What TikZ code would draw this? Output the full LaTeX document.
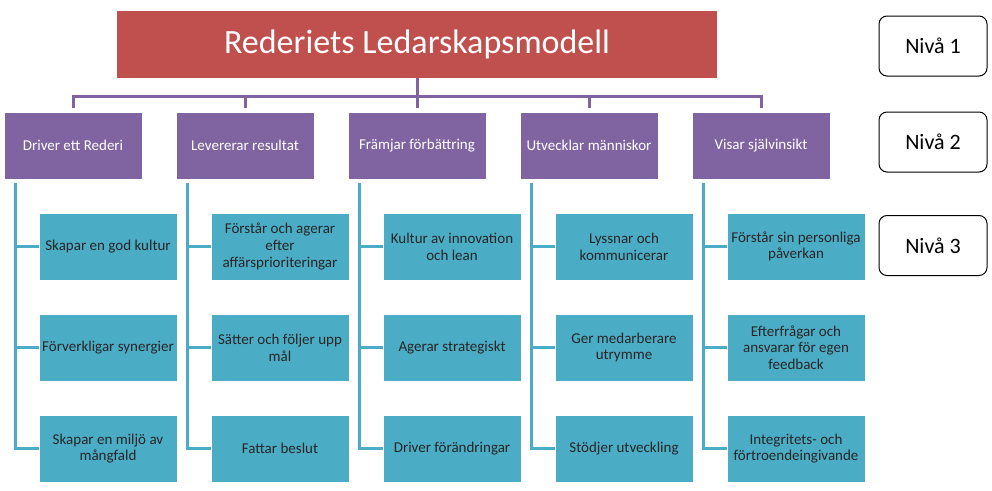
\documentclass[tikz,border=0pt]{standalone}
\usepackage{fontspec}
\setmainfont{Carlito}
\definecolor{modelred}{HTML}{C0504D}
\definecolor{modelpurple}{HTML}{8064A2}
\definecolor{modelteal}{HTML}{4BACC6}
\begin{document}
\begin{tikzpicture}
[x=1pt,y=-1pt,
 titlebox/.style={fill=modelred,text=white,minimum width=600pt,minimum height=67pt,
   inner sep=2pt,font=\fontsize{34}{40}\selectfont},
 lvltwobox/.style={fill=modelpurple,draw=white,line width=0.6pt,text=white,
   minimum width=138pt,minimum height=67pt,inner sep=2pt,font=\fontsize{15}{17}\selectfont},
 lvlthreebox/.style={fill=modelteal,draw=white,line width=0.6pt,text=black!85,align=center,
   minimum width=138pt,minimum height=67pt,inner sep=2pt,font=\fontsize{15}{16.7}\selectfont},
 levelbox/.style={draw=black,line width=1pt,rounded corners=8pt,minimum width=108pt,
   minimum height=60pt,font=\fontsize{22}{26}\selectfont},
 lvlone/.style={draw=modelpurple,line width=3pt},
 lvltwo/.style={draw=modelteal,line width=3.5pt}]
\useasboundingbox (0,0) rectangle (992,490);
\node[titlebox] (title) at (417,44.5) {Rederiets Ledarskapsmodell};
\foreach \i/\txt in {0/Driver ett Rederi, 1/Levererar resultat, 2/Främjar förbättring,
  3/Utvecklar människor, 4/Visar självinsikt}
{
  \node[lvltwobox] (l2-\i) at ({73+172*\i},145.5) {\txt};
}
%% level 3 boxes
\foreach \i/\j/\txt in {0/1/{Skapar en god kultur}, 0/2/{Förverkligar synergier},
  0/3/{Skapar en miljö av\\mångfald},
  1/1/{Förstår och agerar\\efter\\affärsprioriteringar}, 1/2/{Sätter och följer upp\\mål},
  1/3/{Fattar beslut},
  2/1/{Kultur av innovation\\och lean}, 2/2/{Agerar strategiskt}, 2/3/{Driver förändringar},
  3/1/{Lyssnar och\\kommunicerar}, 3/2/{Ger medarberare\\utrymme}, 3/3/{Stödjer utveckling},
  4/1/{Förstår sin personliga\\påverkan}, 4/2/{Efterfrågar och\\ansvarar för egen\\feedback},
  4/3/{Integritets- och\\förtroendeingivande}}
{
  \node[lvlthreebox] (l3-\i-\j) at ({108+172*\i},{145.5+101*\j}) {\txt};
}
%% connectors
\foreach \i in {0,...,4} {
  \draw[lvlone] (title.south) -- ++(0,18) -| ([yshift=4pt]l2-\i.north);
  \foreach \j in {1,2,3}
    \draw[lvltwo] ([xshift=12pt,yshift=-4pt]l2-\i.south west) |- (l3-\i-\j.west);
}
%% levels
\foreach \k/\y in {1/46, 2/142, 3/245.5}
  \node[levelbox] (niva-\k) at (933,\y) {Nivå \k};
\end{tikzpicture}
\end{document}
